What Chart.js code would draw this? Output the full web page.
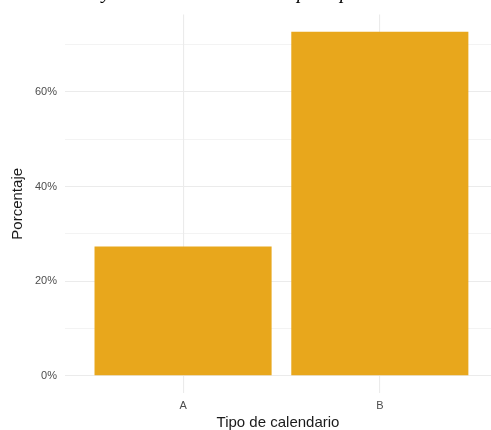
<!DOCTYPE html>
<html>
<head>
<meta charset="utf-8">
<script src="https://cdn.jsdelivr.net/npm/chart.js@4"></script>
<style>
html,body{margin:0;padding:0;background:#fff;}
#wrap{position:relative;width:491px;height:430px;overflow:hidden;}
</style>
</head>
<body>
<div id="wrap"><canvas id="c" width="491" height="430"></canvas></div>
<script>
const categories = ['A', 'B'];
const percentages = [27.3, 72.7];
const yTicks = [0, 10, 20, 30, 40, 50, 60, 70];
const titlePrefix = 'Distribución ';
const titleMiddle = 'y uso de los calendarios ';
const titleSuffix = 'por tipo de usuario';

const points = categories.map((c, i) => ({x: i + 1, y: percentages[i]}));

const titlePlugin = {
  id: 'cutTitle',
  afterDraw(chart) {
    const ctx = chart.ctx;
    ctx.save();
    const fam = '"Liberation Serif", "DejaVu Serif", serif';
    ctx.font = 'italic 20px ' + fam;
    const size = 20 * 195 / ctx.measureText(titleMiddle).width;
    ctx.font = 'italic ' + size.toFixed(2) + 'px ' + fam;
    const x0 = 102 - ctx.measureText(titlePrefix).width;
    ctx.fillStyle = '#000';
    ctx.textBaseline = 'alphabetic';
    ctx.fillText(titlePrefix + titleMiddle + titleSuffix, x0, -1);
    ctx.restore();
  }
};

new Chart(document.getElementById('c'), {
  type: 'bar',
  data: {
    datasets: [{
      data: points,
      backgroundColor: '#E8A71C',
      borderWidth: 0,
      barPercentage: 0.9,
      categoryPercentage: 1
    }]
  },
  options: {
    responsive: false,
    animation: false,
    layout: {padding: {top: 13, left: 0, right: 0, bottom: 0}},
    plugins: {legend: {display: false}, tooltip: {enabled: false}},
    scales: {
      x: {
        type: 'linear',
        min: 0.4,
        max: 2.565,
        offset: false,
        afterBuildTicks(scale) { scale.ticks = categories.map((c, i) => ({value: i + 1})); },
        afterFit(scale) { scale.height = 37; },
        border: {display: false},
        grid: {color: '#ebebeb', lineWidth: 1.1, drawTicks: false, offset: false},
        ticks: {
          callback: (v) => categories[v - 1] ?? '',
          color: '#4d4d4d',
          font: {family: 'Liberation Sans, Arial, sans-serif', size: 11},
          padding: 6,
          maxRotation: 0
        },
        title: {
          display: true,
          text: 'Tipo de calendario',
          color: '#1a1a1a',
          font: {family: 'Liberation Sans, Arial, sans-serif', size: 15},
          padding: {top: 0, bottom: -2}
        }
      },
      y: {
        type: 'linear',
        min: -3.635,
        max: 76.335,
        afterBuildTicks(scale) { scale.ticks = yTicks.map(v => ({value: v})); },
        afterFit(scale) { scale.width = 65; },
        border: {display: false},
        grid: {
          color: '#ebebeb',
          lineWidth: (ctx) => (ctx.tick && ctx.tick.value % 20 === 0) ? 1.1 : 0.6,
          drawTicks: false
        },
        ticks: {
          callback: (v) => (v % 20 === 0 ? v + '%' : ''),
          color: '#4d4d4d',
          font: {family: 'Liberation Sans, Arial, sans-serif', size: 11},
          padding: 8
        },
        title: {
          display: true,
          text: 'Porcentaje',
          color: '#1a1a1a',
          font: {family: 'Liberation Sans, Arial, sans-serif', size: 15},
          padding: {top: 9, bottom: 0}
        }
      }
    }
  },
  plugins: [titlePlugin]
});
</script>
</body>
</html>
